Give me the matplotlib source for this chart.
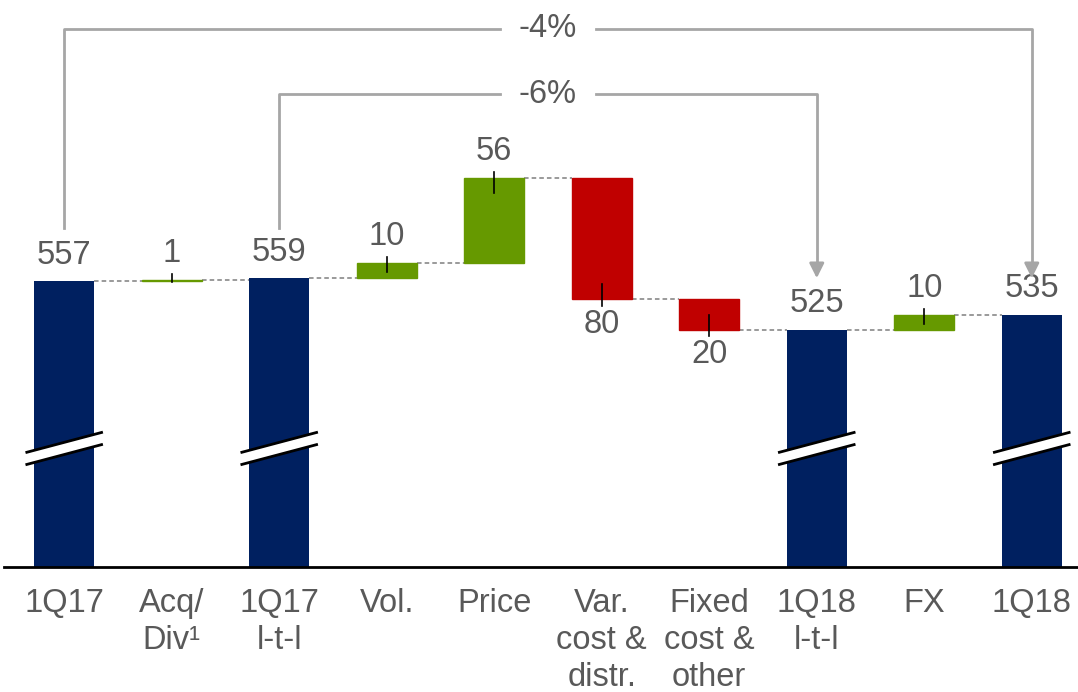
import matplotlib.pyplot as plt
from matplotlib.patches import Polygon

plt.rcParams['font.family'] = ['Liberation Sans', 'DejaVu Sans']

# bridge 1Q17 -> 1Q18
labels = ['1Q17', 'Acq/\nDiv¹', '1Q17\nl-t-l', 'Vol.', 'Price',
          'Var.\ncost &\ndistr.', 'Fixed\ncost &\nother', '1Q18\nl-t-l', 'FX', '1Q18']
kinds = ['total', 'delta', 'total', 'delta', 'delta', 'delta', 'delta', 'total', 'delta', 'total']
values = [557, 1, 559, 10, 56, -80, -20, 525, 10, 535]

NAVY = '#002060'
GREEN = '#669900'
RED = '#c00000'
TXT = '#595959'
GREY = '#a6a6a6'
FS = 23.5

fig = plt.figure(figsize=(10.78, 6.92), dpi=100)
ax = fig.add_axes([0.0037, 0.1806, 0.9963, 0.8194])
ymin, ymax = 369, 742
ax.set_ylim(ymin, ymax)
ax.set_xlim(-0.56, 9.43)

w = 0.56
run = 0
tops = []
for i, (k, v) in enumerate(zip(kinds, values)):
    if k == 'total':
        ax.bar(i, v - ymin, bottom=ymin, width=w, color=NAVY, zorder=2)
        ax.text(i, v + 7, str(v), ha='center', va='bottom', fontsize=FS, color=TXT)
        run = v
        tops.append(v)
    else:
        lo = run if v > 0 else run + v
        col = GREEN if v > 0 else RED
        ax.bar(i, abs(v), bottom=lo, width=w, color=col, edgecolor=col, lw=1, zorder=2)
        hgt = max(abs(v), 1)
        end = run + v
        if v > 0:
            ax.plot([i, i], [end + 4, end - min(10, 0.5 * hgt + 1)], color='black', lw=1.2, zorder=3)
            ax.text(i, end + 7, str(abs(v)), ha='center', va='bottom', fontsize=FS, color=TXT)
        else:
            ax.plot([i, i], [end - 4, end + min(10, 0.5 * hgt)], color='black', lw=1.2, zorder=3)
            ax.text(i, end - 6, str(abs(v)), ha='center', va='top', fontsize=FS, color=TXT)
        run = end
        tops.append(end)

# dashed connectors between bars
for i in range(len(values) - 1):
    ax.plot([i + w / 2, i + 1 - w / 2], [tops[i], tops[i]], ls=(0, (3, 2)),
            color='#7f7f7f', lw=1.1, zorder=1)

# axis-break marks on the total bars
brk = 447
for i, k in enumerate(kinds):
    if k != 'total':
        continue
    x0, x1 = i - 0.36, i + 0.36
    slope = 13.5
    gap = 8
    poly = Polygon([[x0, brk - slope / 2 - gap / 2], [x1, brk + slope / 2 - gap / 2],
                    [x1, brk + slope / 2 + gap / 2], [x0, brk - slope / 2 + gap / 2]],
                   closed=True, facecolor='white', edgecolor='none', zorder=4)
    ax.add_patch(poly)
    for s in (-1, 1):
        ax.plot([x0, x1], [brk - slope / 2 + s * gap / 2, brk + slope / 2 + s * gap / 2],
                color='black', lw=2, zorder=5, solid_capstyle='butt')


def bracket(i0, i1, level, start, tip):
    v0, v1 = values[i0], values[i1]
    pct = round((v1 / v0 - 1) * 100)
    mid = (i0 + i1) / 2
    ax.plot([i0, i0, mid - 0.45], [start, level, level], color=GREY, lw=2, zorder=1)
    ax.plot([mid + 0.45, i1, i1], [level, level, tip + 8], color=GREY, lw=2, zorder=1)
    ax.annotate('', xy=(i1, tip), xytext=(i1, tip + 9),
                arrowprops=dict(arrowstyle='-|>', color=GREY, lw=2, mutation_scale=22,
                                shrinkA=0, shrinkB=0))
    ax.text(mid, level, f'{pct}%', ha='center', va='center', fontsize=FS, color=TXT)


bracket(0, 9, 723, 592, 559)
bracket(2, 7, 680, 592, 559)

ax.set_xticks(range(len(labels)))
ax.set_xticklabels(labels, fontsize=FS, color=TXT, linespacing=1.26)
ax.tick_params(axis='x', length=0, pad=15)
ax.set_yticks([])
for s in ['top', 'right', 'left']:
    ax.spines[s].set_visible(False)
ax.spines['bottom'].set_linewidth(2)
ax.spines['bottom'].set_color('black')

fig.savefig('out.png', dpi=100)
